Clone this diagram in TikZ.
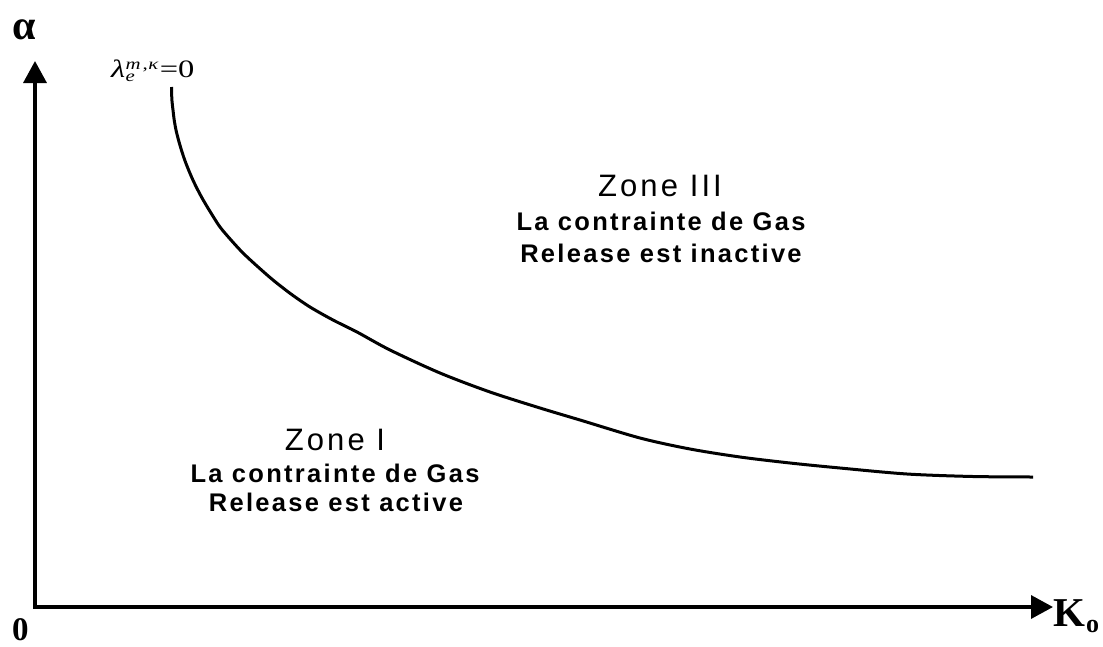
\documentclass[tikz,border=0pt]{standalone}
\usepackage{graphicx}
\usepackage{fontspec}
\setmainfont{Liberation Serif}
\newfontfamily\zonefont[LetterSpace=10]{Liberation Sans}
\newfontfamily\boldsans[LetterSpace=9]{Liberation Sans}
\usetikzlibrary{arrows.meta}
\tikzset{
  axis/.style={line width=3.4pt,-{Triangle[length=22pt,width=23pt]}},
  curveline/.style={line width=3pt},
  zonetitle/.style={anchor=base,inner sep=0pt,font=\zonefont\fontsize{31}{36}\selectfont},
  zonetext/.style={anchor=base,inner sep=0pt,font=\boldsans\bfseries\fontsize{25.5}{30}\selectfont},
  axislabel/.style={inner sep=0pt,anchor=base west}
}
\begin{document}
\begin{tikzpicture}[x=1pt,y=-1pt]
\useasboundingbox (0,0) rectangle (1103,646);
\coordinate (O) at (35,607);
\coordinate (ytip) at (35,61);
\coordinate (xtip) at (1053,607);
\draw[axis] ([yshift=-1.7pt]O) -- (ytip);
\draw[axis] ([xshift=-1.7pt]O) -- (xtip);
\node[axislabel,font=\bfseries\fontsize{42}{44}\selectfont] (alpha) at (12,39) {α};
\node[axislabel,font=\bfseries\fontsize{33}{36}\selectfont] (zero) at (12,640) {0};
\node[axislabel,font=\bfseries\fontsize{41}{44}\selectfont] (K) at (1053,626) {K\kern1pt\raisebox{-6pt}{\fontsize{26}{28}\selectfont o}};
\node[axislabel,font=\fontsize{25}{28}\selectfont] (lam) at (111,77)
  {\scalebox{1.3}[1]{\itshape λ\kern0.3pt\rlap{\raisebox{-4pt}{\fontsize{16}{16}\selectfont e}}\raisebox{8pt}{\fontsize{16}{16}\selectfont m\kern1.5pt\upshape,\kern0.5pt\itshape κ}\kern1pt\upshape=0}};
\draw[curveline] plot[smooth,tension=0.5] coordinates {
 (171.5,87) (171.9,100) (173,110) (174.2,120) (176,130) (178.5,140) (181.4,150)
 (184.7,160) (188.6,170) (192.9,180) (197.8,190) (203.2,200) (211,213) (220,227)
 (231,240) (243,253) (257,266) (273,280) (291,294) (310,307) (333,320) (357,332)
 (390,350) (440,373) (490,392) (540,408) (580,420) (640,438) (690,449) (740,457)
 (790,463) (840,468) (907,474) (973,476.5) (1033,477)};
\node[zonetitle] (z3) at (660,196) {Zone III};
\node[zonetext] (z3a) at (661,230) {La contrainte de Gas};
\node[zonetext] (z3b) at (661,262) {Release est inactive};
\node[zonetitle] (z1) at (335,450) {Zone I};
\node[zonetext] (z1a) at (335,482) {La contrainte de Gas};
\node[zonetext] (z1b) at (336,511) {Release est active};
\end{tikzpicture}
\end{document}
